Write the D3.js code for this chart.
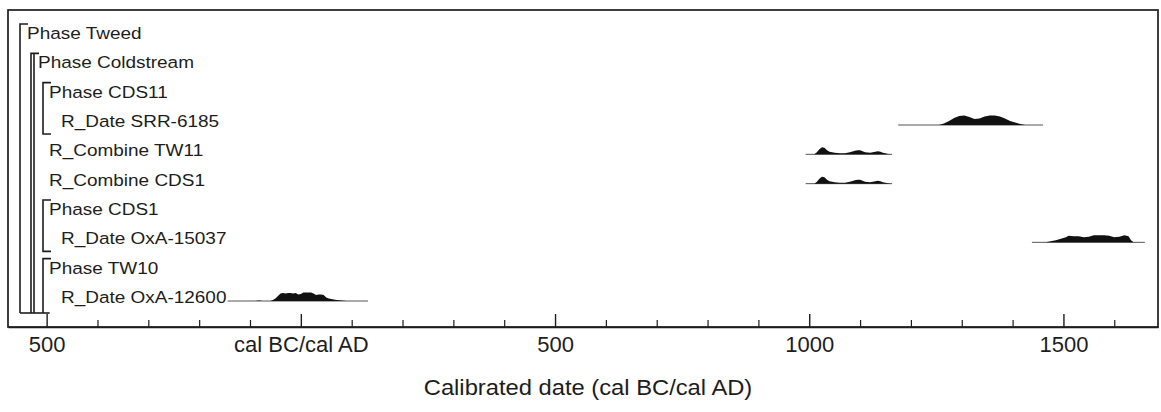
<!DOCTYPE html>
<html><head><meta charset="utf-8">
<script src="https://cdn.jsdelivr.net/npm/d3@7"></script>
<style>
body{margin:0;background:#fff}
svg text{font-family:"Liberation Sans",Arial,Helvetica,sans-serif;fill:#1d1d1d}
</style>
</head><body>
<svg id="c" width="1161" height="412"></svg>
<script>
// ---------- data ----------
const rowLabels = ["Phase Tweed","Phase Coldstream","Phase CDS11","R_Date SRR-6185","R_Combine TW11","R_Combine CDS1","Phase CDS1","R_Date OxA-15037","Phase TW10","R_Date OxA-12600"];
const rowLevels = [0,1,2,3,2,2,2,3,2,3];
// brackets: first row, last row, nesting level
const bracketFrom  = [0,1,2,6,8];
const bracketTo    = [9,9,3,7,9];
const bracketLevel = [0,1,2,2,2];

const majorTicks = [-500,0,500,1000,1500];
const majorTickLabels = ["500","cal BC/cal AD","500","1000","1500"];
const minorTicks = [-400,-300,-200,-100,100,200,300,400,600,700,800,900,1100,1200,1300,1400,1600];
const axisTitle = "Calibrated date (cal BC/cal AD)";

// distributions (year, relative probability)
const srrYears = [1255,1265,1275,1285,1295,1305,1315,1325,1335,1345,1355,1365,1375,1385,1395,1405,1415,1425];
const srrProb  = [0,1.5,4,7,9,9.5,8,6,6.5,8.5,9.5,9.5,8.5,6.5,4,2.5,1,0];
const srrPrior = [1175,1460];

const tw11Years = [1010,1015,1020,1025,1030,1035,1040,1050,1060,1070,1080,1090,1095,1100,1105,1110,1120,1130,1135,1140,1145,1150,1155,1160];
const tw11Prob  = [0,2,5,7,6.5,4,2.5,1.5,1,1,2,3.5,4,4,3,2,1.5,2.5,3,2.5,1.5,1,0.3,0];
const tw11Prior = [993,1163];

const cds1Years = [1010,1015,1020,1025,1030,1035,1040,1050,1060,1070,1080,1090,1095,1100,1105,1110,1120,1130,1135,1140,1145,1150,1155,1160];
const cds1Prob  = [0,2,5,7,6.5,4,2.5,1.5,1,1,2,3.5,4,4,3,2,1.5,2.5,3,2.5,1.5,1,0.3,0];
const cds1Prior = [993,1163];

const oxa15037Years = [1465,1475,1485,1495,1505,1510,1520,1530,1540,1550,1560,1570,1580,1590,1600,1610,1620,1628,1633,1638];
const oxa15037Prob  = [0,1,2,3.5,5,6.5,6,6,5,5.5,7,7,7,6.5,5,5.5,7,6,2,0];
const oxa15037Prior = [1438,1660];

const oxa12600Years = [-90,-82,-75,-60,-55,-50,-45,-40,-35,-30,-25,-20,-15,-10,-5,0,5,10,15,20,25,30,35,40,45,50,55,60,65,70,80,90];
const oxa12600Prob  = [0,0.6,0,0,1,2.5,5,7.5,8,7.5,8,8,7.5,8,6.5,7,8.5,8.5,8.5,8.5,7.5,6,6.5,6.5,6,3.5,2.5,2,1.5,1,0.5,0];
const oxa12600Prior = [-144,132];

const dists = [
  {row:3, years:srrYears, prob:srrProb, prior:srrPrior},
  {row:4, years:tw11Years, prob:tw11Prob, prior:tw11Prior},
  {row:5, years:cds1Years, prob:cds1Prob, prior:cds1Prior},
  {row:7, years:oxa15037Years, prob:oxa15037Prob, prior:oxa15037Prior},
  {row:9, years:oxa12600Years, prob:oxa12600Prob, prior:oxa12600Prior}
];

// ---------- layout ----------
const frame = {left:8, top:10, right:1158, bottom:327};
const svg = d3.select("#c");
const x = d3.scaleLinear().domain([-576,1686]).range([frame.left, frame.right]);
const y = d3.scalePoint().domain(d3.range(rowLabels.length)).range([39,303]);
const h = d3.scaleLinear().domain([0,10]).range([0,10]);
const levelX = [20,31,43,60];
const textX  = [27,38,49,61];
const stretch = 1.15;
const ink = "#1d1d1d";

// frame
svg.append("rect").attr("x",frame.left).attr("y",frame.top)
  .attr("width",frame.right-frame.left).attr("height",frame.bottom-frame.top)
  .attr("fill","none").attr("stroke",ink).attr("stroke-width",1.7);

// row labels
svg.append("g").selectAll("text").data(rowLabels).join("text")
  .attr("transform",(d,i)=>`translate(${textX[rowLevels[i]]},${y(i)}) scale(${stretch},1)`)
  .attr("font-size",16.5).text(d=>d);

// brackets
const commonBottom = 313;
const bg = svg.append("g").attr("fill","none").attr("stroke",ink).attr("stroke-width",1.6);
bracketFrom.forEach((f,i)=>{
  const lx = levelX[bracketLevel[i]];
  const top = y(f)-15;
  const last = bracketTo[i]===rowLabels.length-1;
  const bot = last ? commonBottom : y(bracketTo[i])+7;
  let p = `M${lx+8},${top}H${lx}V${bot}`;
  if(!last) p += `H${lx+8}`;
  bg.append("path").attr("d",p);
  if(bracketLevel[i]===1){
    bg.append("path").attr("d",`M${lx+3},${top}V${bot}`);
  }
});
bg.append("path").attr("d",`M${levelX[0]},${commonBottom}H${x(-500)+3}`);

// distributions
const dg = svg.append("g");
dists.forEach(d=>{
  const base = y(d.row)-2;
  dg.append("line").attr("x1",x(d.prior[0])).attr("x2",x(d.prior[1]))
    .attr("y1",base).attr("y2",base).attr("stroke","#555").attr("stroke-width",1);
  const pts = d.years.map((yr,i)=>[yr,d.prob[i]]);
  dg.append("path").datum(pts)
    .attr("d",d3.area().x(p=>x(p[0])).y0(base).y1(p=>base-h(p[1])))
    .attr("fill","#111");
});

// axes
const axisG = svg.append("g").attr("transform",`translate(0,${frame.bottom})`);
axisG.call(d3.axisBottom(x).tickValues(majorTicks)
    .tickFormat((d,i)=>majorTickLabels[i]).tickSizeInner(-13).tickSizeOuter(0).tickPadding(25))
  .call(g=>g.select(".domain").attr("stroke",ink).attr("stroke-width",1.7))
  .call(g=>g.selectAll(".tick line").attr("stroke",ink).attr("stroke-width",1.4))
  .call(g=>g.selectAll(".tick text").attr("font-size",22).attr("fill",ink)
      .attr("font-family","Liberation Sans, Arial, sans-serif").attr("dy",0));
svg.append("g").attr("transform",`translate(0,${frame.bottom})`)
  .call(d3.axisBottom(x).tickValues(minorTicks).tickFormat("").tickSizeInner(-7).tickSizeOuter(0))
  .call(g=>g.select(".domain").remove())
  .call(g=>g.selectAll(".tick line").attr("stroke",ink).attr("stroke-width",1.2));

svg.append("text").attr("transform",`translate(${(frame.left+frame.right)/2+5},395) scale(1.08,1)`)
  .attr("text-anchor","middle").attr("font-size",22).text(axisTitle);
</script>
</body></html>
